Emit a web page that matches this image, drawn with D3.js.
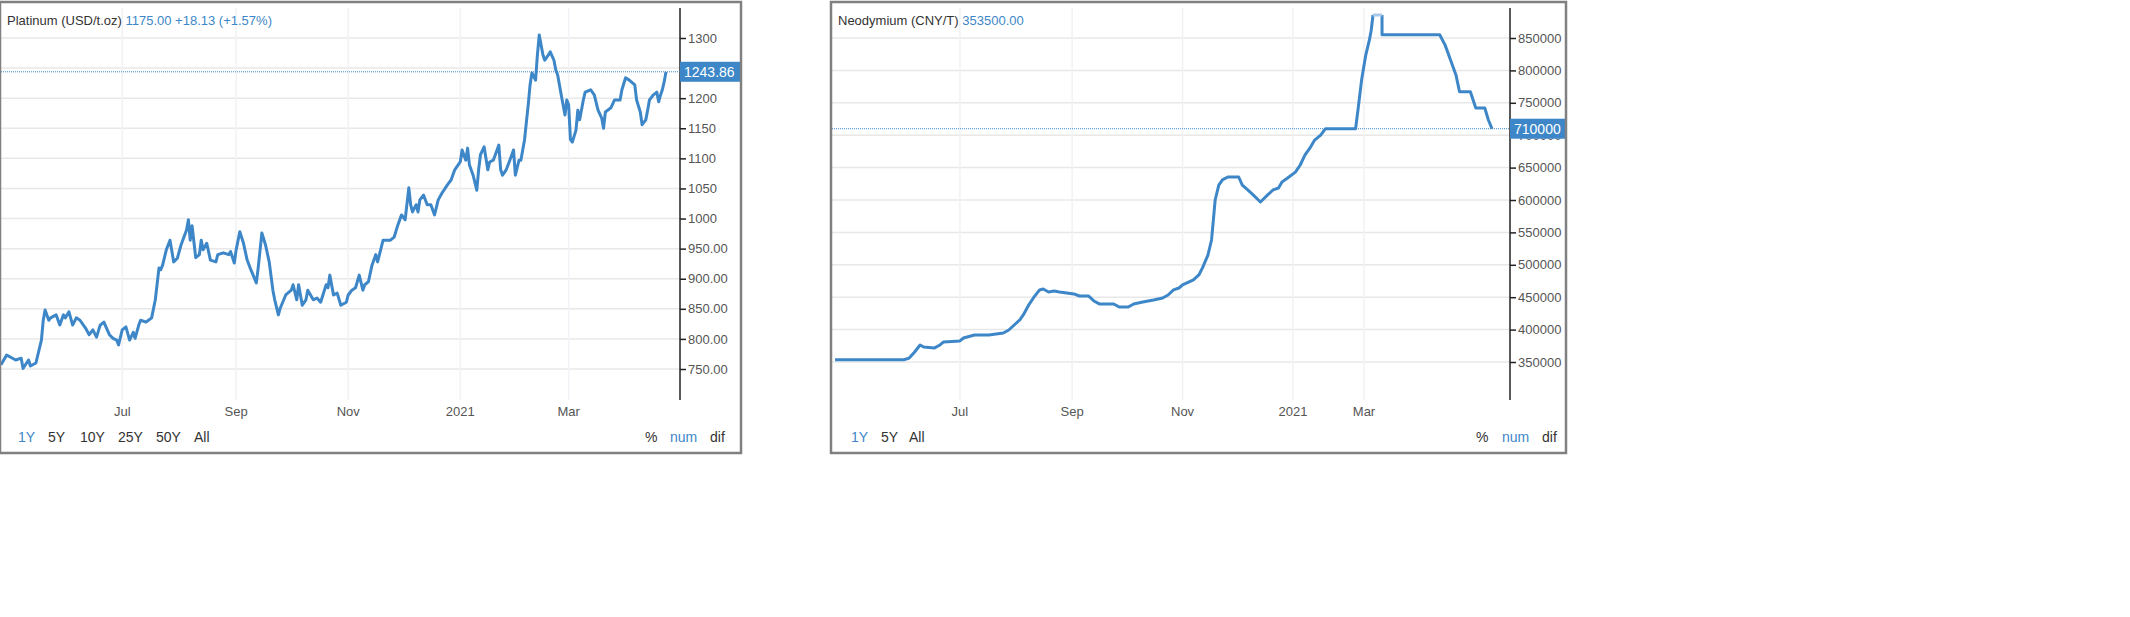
<!DOCTYPE html>
<html lang="en">
<head>
<meta charset="UTF-8" />
<title>Platinum and Neodymium</title>
<script src="https://d3js.org/d3.v7.min.js"></script>
<style>
  body { margin: 0; background: #fff; font-family: "Liberation Sans", Arial, sans-serif; }
  svg text { font-family: "Liberation Sans", Arial, sans-serif; }
</style>
</head>
<body>
<svg width="2130" height="617"></svg>
<script>
// [days since start, price]
const platinumStart = new Date(2020, 3, 26);
const platinum = [[0,757],[3,773],[5,770],[8,765],[11,768],[12,751],[15,765],[16,755],[19,760],[22,798],[23,831],[24,848],[26,831],[27,835],[30,840],[32,823],[34,840],[35,835],[37,845],[39,823],[41,835],[43,831],[46,818],[48,807],[50,815],[52,803],[54,823],[56,828],[59,807],[61,801],[63,798],[64,790],[66,815],[68,820],[70,798],[72,811],[73,801],[75,823],[76,831],[79,828],[82,835],[84,865],[86,918],[87,915],[88,923],[90,948],[92,964],[94,928],[96,934],[98,956],[101,981],[102,998],[103,964],[104,988],[106,935],[108,940],[109,964],[110,948],[112,959],[114,931],[117,928],[118,940],[121,943],[124,940],[125,945],[127,926],[128,948],[130,978],[132,959],[134,931],[136,915],[139,893],[140,918],[142,976],[144,956],[146,928],[148,881],[149,865],[151,840],[152,851],[155,873],[158,881],[159,890],[161,865],[162,890],[164,856],[166,865],[167,881],[170,865],[172,868],[174,861],[177,890],[178,885],[179,906],[181,873],[183,876],[185,856],[188,861],[189,873],[191,881],[193,885],[195,906],[197,881],[198,890],[200,895],[202,923],[204,940],[205,928],[208,964],[209,964],[212,964],[214,969],[216,989],[218,1006],[220,998],[222,1051],[223,1023],[224,1011],[226,1023],[227,1011],[228,1031],[230,1039],[232,1023],[234,1023],[236,1006],[238,1031],[240,1042],[243,1056],[245,1064],[247,1081],[250,1094],[251,1114],[253,1097],[254,1117],[255,1089],[257,1072],[259,1047],[260,1081],[261,1106],[263,1119],[265,1081],[266,1094],[268,1097],[271,1122],[272,1081],[273,1072],[275,1081],[277,1097],[279,1114],[280,1072],[282,1097],[283,1097],[285,1131],[287,1189],[288,1222],[289,1242],[291,1230],[292,1272],[293,1305],[295,1272],[296,1263],[298,1272],[299,1277],[301,1263],[302,1247],[303,1239],[305,1205],[307,1172],[308,1197],[309,1189],[310,1131],[311,1127],[313,1147],[314,1180],[315,1164],[317,1197],[318,1210],[321,1214],[323,1205],[325,1180],[327,1167],[328,1150],[329,1177],[332,1184],[334,1197],[337,1197],[338,1214],[340,1234],[342,1230],[345,1222],[346,1197],[348,1177],[349,1156],[351,1164],[352,1180],[353,1197],[355,1205],[357,1210],[358,1194],[359,1205],[360,1214],[361,1227],[362,1243.86]];
const platinumTicks = [750,800,850,900,950,1000,1050,1100,1150,1200,1250,1300];
const platinumTickLabels = ["750.00","800.00","850.00","900.00","950.00","1000","1050","1100","1150","1200","","1300"];

const neoStart = new Date(2020, 3, 23);
const neodymium = [[0,353500],[38,353500],[41,356000],[44,365500],[47,376300],[49,373200],[55,371700],[58,376300],[60,381000],[69,382500],[71,387000],[77,391700],[85,391700],[93,394800],[96,399400],[99,407100],[102,414800],[104,422600],[107,438000],[110,450400],[113,461200],[115,462700],[118,458100],[121,459600],[124,458100],[132,455000],[135,451900],[140,451900],[143,444200],[146,439600],[154,439600],[157,434900],[162,434900],[165,439600],[170,442600],[176,445700],[181,448800],[184,453400],[187,461200],[190,464200],[192,468900],[198,476600],[201,484300],[203,495200],[206,515000],[208,538300],[209,569000],[210,600000],[212,623000],[214,631000],[217,635500],[223,635500],[225,623000],[228,615500],[231,608000],[235,597000],[239,608000],[242,615500],[245,618500],[247,628000],[250,634000],[255,643000],[259,654000],[263,669500],[267,680000],[271,692500],[276,700000],[280,710000],[305,710000],[307,739000],[310,785000],[313,824000],[315,847000],[316,862000],[317,885500]];
const neodymiumHigh = [[317,885500],[322,885500]];
const neodymiumTail = [[322,885500],[322.5,855000],[354,855000],[357,839000],[360,816000],[363,793000],[365,767000],[371,767000],[374,742000],[379,742000],[381,723500],[383,710000]];
const neoTicks = [350000,400000,450000,500000,550000,600000,650000,700000,750000,800000,850000];

const monthTicks = [new Date(2020,6,1), new Date(2020,8,1), new Date(2020,10,1), new Date(2021,0,1), new Date(2021,2,1)];
const monthLabels = ["Jul","Sep","Nov","2021","Mar"];

const blue = "#3d87c8", grid = "#e8e8e8", textCol = "#555";
const svg = d3.select("svg");
const day = (s, d) => d3.timeDay.offset(s, d);

function panel(o) {
  const g = svg.append("g");
  const x = o.x, y = o.y;
  // grid
  g.selectAll(".hg").data(o.ticks).join("line")
    .attr("x1", o.left).attr("x2", o.axisX)
    .attr("y1", d => y(d)).attr("y2", d => y(d))
    .attr("stroke", grid).attr("stroke-width", 1.5);
  g.selectAll(".vg").data(monthTicks).join("line")
    .attr("x1", d => x(d)).attr("x2", d => x(d))
    .attr("y1", 8).attr("y2", 400)
    .attr("stroke", "#f0f2f5").attr("stroke-width", 1.5);
  // y axis
  const ax = g.append("g").attr("transform", `translate(${o.axisX},0)`)
    .call(d3.axisRight(y).tickValues(o.ticks).tickSize(6).tickFormat((d, i) => o.tickLabels[i]));
  ax.select(".domain").attr("d", "M0,8V400").attr("stroke", "#222").attr("stroke-width", 1.5);
  ax.selectAll(".tick line").attr("stroke", "#222").attr("stroke-width", 1.5);
  ax.selectAll(".tick text").attr("fill", textCol).attr("font-size", 13).attr("x", 8);
  // x labels
  g.selectAll(".xl").data(monthTicks).join("text")
    .attr("x", d => x(d)).attr("y", 416).attr("text-anchor", "middle")
    .attr("font-size", 13).attr("fill", textCol).text((d, i) => monthLabels[i]);
  // current line
  g.append("line").attr("x1", o.left).attr("x2", o.axisX)
    .attr("y1", y(o.last)).attr("y2", y(o.last))
    .attr("stroke", blue).attr("stroke-dasharray", "1,1").attr("stroke-width", 1);
  const line = d3.line().x(d => x(day(o.start, d[0]))).y(d => y(d[1]));
  o.series.forEach(s => g.append("path").datum(s.data).attr("d", line)
    .attr("fill", "none").attr("stroke", s.color).attr("stroke-width", 3).attr("stroke-linejoin", "round"));
  g.append("rect").attr("x", o.axisX).attr("y", y(o.last) - 10).attr("width", o.right - o.axisX).attr("height", 20).attr("fill", blue);
  g.append("text").attr("x", o.axisX + 4).attr("y", y(o.last) + 5).attr("fill", "#fff")
    .attr("font-size", 14).text(o.lastLabel);
  // title
  const t = g.append("text").attr("x", o.left + 6).attr("y", 25).attr("font-size", 13);
  t.append("tspan").attr("fill", "#333").text(o.title + " ");
  t.append("tspan").attr("fill", blue).text(o.quote);
  // buttons
  o.buttons.forEach((b, i) => g.append("text").attr("x", b[1]).attr("y", 442).attr("font-size", 14)
    .attr("fill", b[2] ? blue : "#333").text(b[0]));
  // frame
  g.append("rect").attr("x", o.left - 1).attr("y", 2).attr("width", o.right - o.left + 2).attr("height", 451)
    .attr("fill", "none").attr("stroke", "#808080").attr("stroke-width", 2.5);
}

panel({
  left: 1, right: 740, axisX: 680, start: platinumStart,
  x: d3.scaleTime().domain([platinumStart, day(platinumStart, 362)]).range([1, 666]),
  y: d3.scaleLinear().domain([750, 1300]).range([369, 38]),
  ticks: platinumTicks, tickLabels: platinumTickLabels,
  series: [{ data: platinum, color: blue }],
  last: 1243.86, lastLabel: "1243.86",
  title: "Platinum (USD/t.oz)", quote: "1175.00  +18.13 (+1.57%)",
  buttons: [["1Y",18,true],["5Y",48],["10Y",80],["25Y",118],["50Y",156],["All",194],["%",645],["num",670,true],["dif",710]]
});

panel({
  left: 832, right: 1565, axisX: 1510, start: neoStart,
  x: d3.scaleTime().domain([neoStart, new Date(2021,0,1), new Date(2021,2,1), day(neoStart, 383)]).range([835, 1293, 1364, 1492]),
  y: d3.scaleLinear().domain([350000, 850000]).range([362, 38]),
  ticks: neoTicks, tickLabels: neoTicks.map(String),
  series: [{ data: neodymium, color: blue }, { data: neodymiumTail, color: blue }, { data: neodymiumHigh, color: "#a8c8ea" }],
  last: 710000, lastLabel: "710000",
  title: "Neodymium (CNY/T)", quote: "353500.00",
  buttons: [["1Y",851,true],["5Y",881],["All",909],["%",1476],["num",1502,true],["dif",1542]]
});
</script>
</body>
</html>
